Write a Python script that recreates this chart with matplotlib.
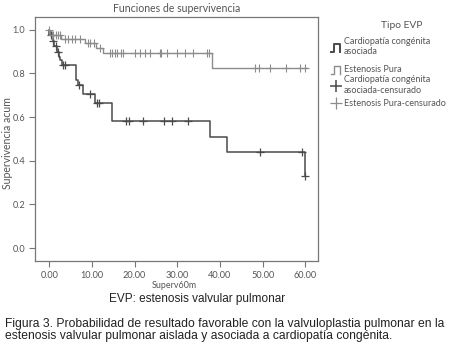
import numpy as np
import matplotlib
matplotlib.use("Agg")
import matplotlib.pyplot as plt
from matplotlib.lines import Line2D

# ---- data ----
# Cardiopatía congénita asociada: event times and survival after each step
cc_t = [0.0, 0.8, 1.2, 1.8, 2.2, 2.6, 3.0, 6.2, 6.8, 8.0, 10.8, 14.8, 37.7, 41.7, 60.0]
cc_s = [0.975, 0.95, 0.925, 0.90, 0.875, 0.86, 0.84, 0.77, 0.745, 0.705, 0.665, 0.58, 0.51, 0.44, 0.33]
cc_cens = [0.4, 0.9, 1.5, 2.0, 3.3, 3.8, 7.0, 9.6, 11.3, 11.6, 18.0, 18.6, 22.0, 27.0,
           28.8, 32.4, 49.4, 59.2, 60.0]

# Estenosis Pura
ep_t = [0.0, 0.2, 2.8, 8.4, 11.0, 12.7, 38.2]
ep_s = [1.0, 0.975, 0.96, 0.94, 0.918, 0.895, 0.824]
ep_end = 60.3
ep_cens = [0.0, 0.6, 1.0, 1.5, 2.0, 2.5, 3.7, 4.5, 5.4, 6.1, 7.3, 9.0, 9.5, 10.5, 12.0,
           14.3, 14.8, 15.3, 16.0, 16.8, 17.3, 20.0, 21.3, 22.5, 23.7, 26.0, 26.3, 27.6,
           30.0, 31.9, 33.7, 37.0, 37.5, 48.2, 49.2, 51.8, 55.5, 58.8, 60.0]

xticks = [0, 10, 20, 30, 40, 50, 60]
yticks = [0.0, 0.2, 0.4, 0.6, 0.8, 1.0]

title = "Funciones de supervivencia"
xlabel = "Superv60m"
ylabel = "Supervivencia acum"
legend_title = "Tipo EVP"
legend_labels = ["Cardiopatía congénita\nasociada", "Estenosis Pura",
                 "Cardiopatía congénita\nasociada-censurado", "Estenosis Pura-censurado"]
subtitle = "EVP: estenosis valvular pulmonar"
caption = ("Figura 3. Probabilidad de resultado favorable con la valvuloplastia pulmonar en la\n"
           "estenosis valvular pulmonar aislada y asociada a cardiopatía congénita.")

DARK = "#4a4a4a"
LIGHT = "#8c8c8c"
TXT = "#555555"
FONT = ["Lato", "DejaVu Sans"]
ARIAL = ["Liberation Sans", "DejaVu Sans"]


def surv_at(times, surv, t):
    i = np.searchsorted(times, t, side="right") - 1
    return np.asarray(surv)[np.clip(i, 0, len(surv) - 1)]


fig = plt.figure(figsize=(4.5, 3.5), dpi=100)
ax = fig.add_axes([0.078, 0.254, 0.629, 0.697])

# Cardiopatía curve
ax.step(cc_t, cc_s, where="post", color=DARK, lw=1.1)
ax.plot([0, 0], [1.0, cc_s[0]], color=DARK, lw=1.1)
ax.scatter(cc_cens, surv_at(cc_t, cc_s, np.array(cc_cens)), marker="+", s=28,
           color=DARK, linewidths=0.9, zorder=3)

# Estenosis pura curve
ep_tt = ep_t + [ep_end]
ep_ss = ep_s + [ep_s[-1]]
ax.step(ep_tt, ep_ss, where="post", color=LIGHT, lw=1.0)
ax.scatter(ep_cens, surv_at(ep_t, ep_s, np.array(ep_cens)), marker="+", s=28,
           color=LIGHT, linewidths=0.8, zorder=3)

ax.set_xlim(-3.3, 63.0)
ax.set_ylim(-0.06, 1.058)
ax.set_xticks(xticks)
ax.set_xticklabels([f"{v:.2f}" for v in xticks])
ax.set_yticks(yticks)
ax.set_yticklabels([f"{v:.1f}" for v in yticks])
for sp in ax.spines.values():
    sp.set_color("#777777")
    sp.set_linewidth(0.9)
ax.tick_params(direction="out", length=4, width=0.8, color="#777777",
               labelsize=6.6, labelcolor=TXT, pad=3)
for lab in ax.get_xticklabels() + ax.get_yticklabels():
    lab.set_family(FONT)


def fx(x):
    return x / 450


def fy(y):
    return 1 - y / 350


fig.text(fx(177), fy(8), title, ha="center", va="center", fontsize=7.6,
         color=TXT, family=FONT)
fig.text(fx(174), fy(286), xlabel, ha="center", va="center", fontsize=6.4,
         color=TXT, family=FONT)
fig.text(fx(8), fy(143), ylabel, ha="center", va="center", fontsize=7.6,
         color=TXT, family=FONT, rotation=90)

# legend (manual)
fig.text(fx(402), fy(25), legend_title, ha="center", va="center", fontsize=7.4,
         color=TXT, family=FONT)


def step_icon(cx, cy, color, lw):
    xs = [cx - 5, cx - 2, cx - 2, cx + 4, cx + 4]
    ys = [cy + 4, cy + 4, cy - 4, cy - 4, cy + 4]
    fig.add_artist(Line2D([fx(x) for x in xs], [fy(y) for y in ys], color=color, lw=lw,
                          transform=fig.transFigure))


step_icon(336, 48, DARK, 1.4)
step_icon(336, 70, LIGHT, 1.0)
fig.add_artist(Line2D([fx(336)], [fy(86)], marker="+", markersize=8, mew=1.1,
                      color=DARK, ls="none", transform=fig.transFigure))
fig.add_artist(Line2D([fx(336)], [fy(103)], marker="+", markersize=8, mew=0.9,
                      color=LIGHT, ls="none", transform=fig.transFigure))
ys_txt = [46.5, 70, 85, 103]
for lab, y in zip(legend_labels, ys_txt):
    fig.text(fx(344), fy(y), lab, ha="left", va="center", fontsize=6.5, color=TXT,
             family=FONT, linespacing=1.15)

fig.text(fx(197), fy(299), subtitle, ha="center", va="center", fontsize=8.5,
         color="#222222", family=ARIAL)
fig.text(fx(5), fy(330), caption, ha="left", va="center", fontsize=8.7,
         color="#222222", family=ARIAL, linespacing=0.92)

fig.savefig("out.png", dpi=100)
